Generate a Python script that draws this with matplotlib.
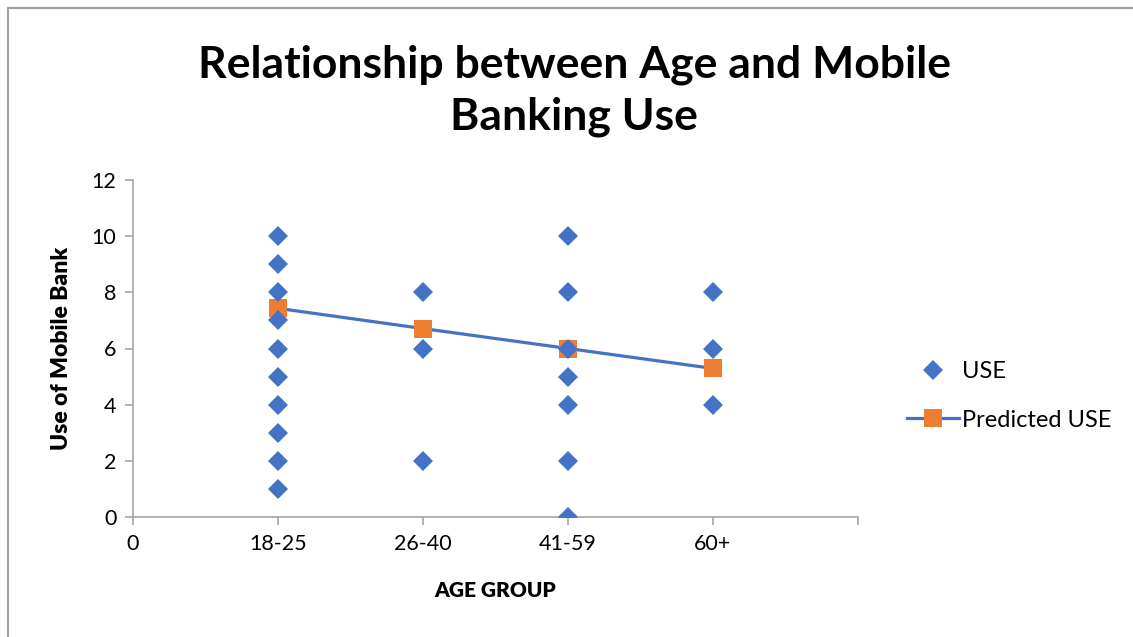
import matplotlib as mpl
mpl.use('agg')
import matplotlib.pyplot as plt
from matplotlib.patches import Rectangle

# data
age_labels = ['0', '18-25', '26-40', '41-59', '60+', '']
use_x = [1]*10 + [2]*3 + [3]*7 + [4]*3
use_y = [10, 9, 8, 7, 6, 5, 4, 3, 2, 1,
         8, 6, 2,
         10, 8, 6, 5, 4, 2, 0,
         8, 6, 4]
pred_x = [1, 2, 3, 4]
pred_y = [7.43, 6.71, 6.0, 5.29]

blue = '#4472C4'
orange = '#ED7D31'
grey = '#A6A6A6'

plt.rcParams['font.family'] = ['Lato', 'DejaVu Sans']

fig = plt.figure(figsize=(11.33, 6.37), dpi=100)
ax = fig.add_axes([133/1133, 1-517/637, (858-133)/1133, (517-180)/637])

ax.plot(use_x, use_y, linestyle='none', marker='D', markersize=9.8,
        color=blue, markeredgewidth=0, label='USE', zorder=3)
ax.plot(pred_x, pred_y, color=blue, linewidth=2.3, marker='s', markersize=12.5,
        markerfacecolor=orange, markeredgewidth=0, label='Predicted USE', zorder=2)

ax.set_xlim(0, 5)
ax.set_ylim(0, 12)
ax.set_xticks(range(6))
ax.set_xticklabels(age_labels)
ax.set_yticks(range(0, 13, 2))
ax.tick_params(direction='out', length=6, width=1.2, color=grey,
               labelsize=15.5, pad=6)
for s in ['top', 'right']:
    ax.spines[s].set_visible(False)
for s in ['left', 'bottom']:
    ax.spines[s].set_color(grey)
    ax.spines[s].set_linewidth(1.2)

ax.set_xlabel('AGE GROUP', fontsize=15, fontweight='heavy', labelpad=20)
ax.set_ylabel('Use of Mobile Bank', fontsize=16.5, fontweight='heavy', labelpad=14)

fig.text(574/1133, 1-91/637, 'Relationship between Age and Mobile\nBanking Use',
         ha='center', va='center', fontsize=32, fontweight='bold',
         linespacing=1.35)

leg = ax.legend(loc='center left', bbox_to_anchor=(886/1133, 1-396/637),
                bbox_transform=fig.transFigure, frameon=False, fontsize=17,
                handlelength=2.2, labelspacing=1.15, handletextpad=0.1)

fig.add_artist(Rectangle((8/1133, -0.1), 1.2, 1-8/637+0.1,
                         transform=fig.transFigure, fill=False,
                         edgecolor='#A0A0A0', linewidth=1.5, clip_on=False))

fig.savefig('out.png', dpi=100)
